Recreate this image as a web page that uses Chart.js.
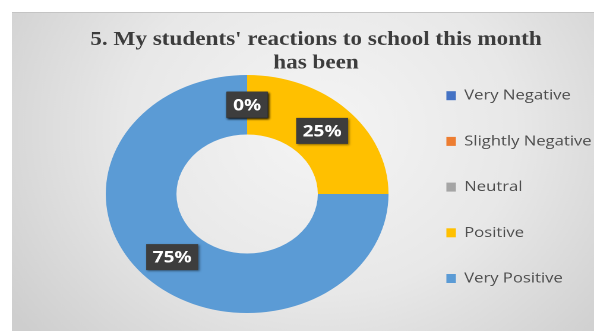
<!DOCTYPE html>
<html>
<head>
<meta charset="utf-8">
<script src="https://cdn.jsdelivr.net/npm/chart.js@4"></script>
<style>
  html, body { margin: 0; padding: 0; background: #fff; overflow: hidden; }
  /* the original picture is stretched sideways, so the whole chart is too */
  #wrap { width: 500px; height: 331px; transform: scaleX(1.188); transform-origin: 0 0; }
</style>
</head>
<body>
<div id="wrap"><canvas id="donut-chart"></canvas></div>
<script>
const titleLines = ["5. My students' reactions to school this month", 'has been'];
const categories = ['Very Negative', 'Slightly Negative', 'Neutral', 'Positive', 'Very Positive'];
const responses = [0, 0, 0, 1, 3];

const sliceColors = ['#4472C4', '#ED7D31', '#A5A5A5', '#FFC000', '#5B9BD5'];

// fondo gris con degradado y marco
const backgroundPlugin = {
  id: 'background',
  beforeDraw: (chart) => {
    const { ctx, width, height } = chart;
    ctx.save();
    ctx.fillStyle = '#fff';
    ctx.fillRect(0, 0, width, height);
    const grad = ctx.createRadialGradient(270, 130, 10, 270, 130, 320);
    grad.addColorStop(0, '#f4f4f4');
    grad.addColorStop(0.5, '#e8e8e8');
    grad.addColorStop(1, '#cecece');
    ctx.fillStyle = grad;
    ctx.fillRect(10, 12, width - 10, height - 12);
    ctx.fillStyle = '#c4c4c4';
    ctx.fillRect(10, 12, width - 10, 1);
    ctx.restore();
  }
};

// titulo dibujado a mano para poder centrarlo donde va
const titlePlugin = {
  id: 'manualTitle',
  afterDraw: (chart) => {
    const { ctx } = chart;
    ctx.save();
    ctx.font = 'bold 19.5px "Liberation Serif", "Times New Roman", serif';
    ctx.fillStyle = '#3c3c3c';
    ctx.textAlign = 'center';
    ctx.textBaseline = 'alphabetic';
    titleLines.forEach((line, i) => ctx.fillText(line, 266, 45 + i * 23.3));
    ctx.restore();
  }
};

// etiquetas de porcentaje en cajas oscuras
const percentLabels = {
  id: 'percentLabels',
  afterDatasetsDraw: (chart) => {
    const { ctx } = chart;
    const meta = chart.getDatasetMeta(0);
    const values = chart.data.datasets[0].data;
    const total = values.reduce((a, b) => a + b, 0);
    ctx.save();
    ctx.font = 'bold 16px "Open Sans", sans-serif';
    ctx.textAlign = 'center';
    ctx.textBaseline = 'middle';
    meta.data.forEach((arc, i) => {
      const text = Math.round(values[i] / total * 100) + '%';
      const { x, y } = arc.tooltipPosition();
      const w = ctx.measureText(text).width + 11;
      const h = 26;
      ctx.shadowColor = 'rgba(0,0,0,0.45)';
      ctx.shadowBlur = 4;
      ctx.shadowOffsetX = 2;
      ctx.shadowOffsetY = 2;
      ctx.fillStyle = '#3d3d3d';
      ctx.fillRect(x - w / 2, y - h / 2, w, h);
      ctx.shadowColor = 'transparent';
      ctx.fillStyle = '#fff';
      ctx.fillText(text, x, y + 1);
    });
    ctx.restore();
  }
};

const config = {
  type: 'doughnut',
  data: {
    labels: categories,
    datasets: [{
      data: responses,
      backgroundColor: sliceColors,
      borderWidth: 0,
      radius: 119,
      cutout: '50%'
    }]
  },
  options: {
    responsive: true,
    maintainAspectRatio: false,
    devicePixelRatio: 2,
    animation: false,
    layout: { padding: { top: 57, bottom: 0, left: 72, right: -8 } },
    plugins: {
      title: { display: false },
      tooltip: { enabled: false },
      legend: {
        position: 'right',
        align: 'start',
        labels: {
          boxWidth: 8,
          boxHeight: 9,
          padding: 31.7,
          color: '#4d4d4d',
          font: { family: '"Open Sans", sans-serif', size: 14 }
        }
      }
    }
  },
  plugins: [backgroundPlugin, percentLabels, titlePlugin]
};

new Chart(document.querySelector('#donut-chart'), config);
</script>
</body>
</html>
